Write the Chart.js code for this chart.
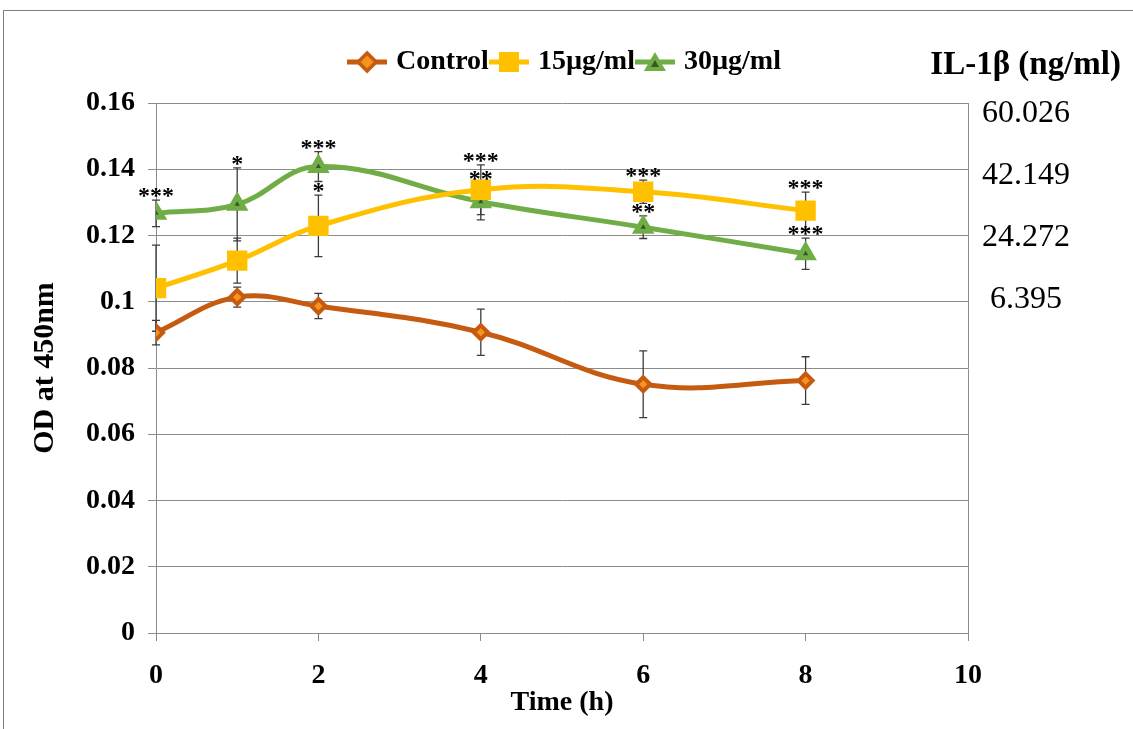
<!DOCTYPE html>
<html><head><meta charset="utf-8">
<script src="https://cdn.jsdelivr.net/npm/chart.js@4"></script>
<style>
html,body{margin:0;padding:0;background:#fff;}
#wrap{position:relative;width:1133px;height:729px;overflow:hidden;background:#fff;}
#frame{position:absolute;left:3px;top:10px;width:1200px;height:800px;border:1px solid #7f7f7f;}
canvas{position:absolute;left:0;top:0;}
</style></head><body>
<div id="wrap"><div id="frame"></div><canvas id="c" width="1133" height="729"></canvas></div>
<script>
// ---- data ----
const timeHours   = [0, 1, 2, 4, 6, 8];
const seriesNames = ['Control', '15\u00b5g/ml', '30\u00b5g/ml'];
const controlOD   = [0.0907, 0.1014, 0.0987, 0.0908, 0.0751, 0.0762];
const controlErr  = [0.0037, 0.0030, 0.0038, 0.0070, 0.0101, 0.0072];
const ug15OD      = [0.1041, 0.1124, 0.1229, 0.1338, 0.1332, 0.1275];
const ug15Err     = [0.0130, 0.0068, 0.0093, 0.0075, 0.0035, 0.0056];
const ug30OD      = [0.1267, 0.1294, 0.1408, 0.1302, 0.1225, 0.1145];
const ug30Err     = [0.0040, 0.0110, 0.0045, 0.0055, 0.0034, 0.0047];
const controlStars = ['', '', '', '', '', ''];
const ug15Stars    = ['', '', '*', '***', '***', '***'];
const ug30Stars    = ['***', '*', '***', '**', '**', '***'];
const il1bTicks    = [6.395, 24.272, 42.149, 60.026];
const rightAxisTitle = 'IL-1\u03b2 (ng/ml)';
const xTitle = 'Time (h)';
const yTitle = 'OD at 450nm';

const SERIF = "'Liberation Serif', 'Times New Roman', serif";
const GRID = '#8c8c8c';
const C_CTRL = '#C55A11', C_CTRL_IN = '#F7941D';
const C_15 = '#FFC000';
const C_30 = '#70AD47', C_30_IN = '#375623';

function pts(vals){ return timeHours.map((t,i)=>({x:t, y:vals[i]})); }

// legend icons (line + marker), Excel style
function icon(lineColor, marker){
  const c = document.createElement('canvas'); c.width = 40; c.height = 24;
  const g = c.getContext('2d');
  g.strokeStyle = lineColor; g.lineWidth = 5;
  g.beginPath(); g.moveTo(0,12); g.lineTo(40,12); g.stroke();
  marker(g); return c;
}
const legendIcons = [
  icon(C_CTRL, g=>{ g.beginPath(); g.moveTo(20,3); g.lineTo(29,12); g.lineTo(20,21); g.lineTo(11,12); g.closePath();
    g.fillStyle=C_CTRL_IN; g.fill(); g.lineWidth=3.5; g.strokeStyle=C_CTRL; g.stroke(); }),
  icon(C_15, g=>{ g.fillStyle=C_15; g.fillRect(10,2,20,20); }),
  icon(C_30, g=>{ g.beginPath(); g.moveTo(20,2); g.lineTo(31,21); g.lineTo(9,21); g.closePath(); g.fillStyle=C_30; g.fill();
    g.beginPath(); g.moveTo(20,10); g.lineTo(24,17); g.lineTo(16,17); g.closePath(); g.fillStyle=C_30_IN; g.fill(); })
];

const errorBars = {
  id:'errorBars',
  beforeDatasetsDraw(chart){
    const {ctx} = chart, x = chart.scales.x, y = chart.scales.y;
    ctx.save(); ctx.strokeStyle = '#3c3c3c'; ctx.lineWidth = 1.3;
    chart.data.datasets.forEach(ds=>{
      ds.data.forEach((p,j)=>{
        const e = ds.errors[j];
        const px = x.getPixelForValue(p.x);
        const t = y.getPixelForValue(p.y + e), b = y.getPixelForValue(p.y - e);
        ctx.beginPath();
        ctx.moveTo(px, t); ctx.lineTo(px, b);
        ctx.moveTo(px-4, t); ctx.lineTo(px+4, t);
        ctx.moveTo(px-4, b); ctx.lineTo(px+4, b);
        ctx.stroke();
      });
    });
    ctx.restore();
  }
};

const starsPlugin = {
  id:'stars',
  afterDatasetsDraw(chart){
    const {ctx} = chart, x = chart.scales.x, y = chart.scales.y;
    ctx.save(); ctx.fillStyle = '#000'; ctx.font = 'bold 24px ' + SERIF;
    ctx.textAlign = 'center'; ctx.textBaseline = 'alphabetic';
    chart.data.datasets.forEach(ds=>{
      ds.data.forEach((p,j)=>{
        const s = ds.stars[j]; if(!s) return;
        ctx.fillText(s, x.getPixelForValue(p.x), y.getPixelForValue(p.y + ds.errors[j]) + 3);
      });
    });
    ctx.restore();
  }
};

const rightTitle = {
  id:'rightTitle',
  afterDraw(chart){
    const {ctx} = chart; const lg = chart.legend;
    const box = lg.legendHitBoxes && lg.legendHitBoxes[0];
    const cy = box ? box.top + box.height/2 : 60;
    ctx.save(); ctx.fillStyle = '#000'; ctx.font = 'bold 33px ' + SERIF;
    ctx.textAlign = 'right'; ctx.textBaseline = 'middle';
    ctx.fillText(rightAxisTitle, chart.width - 12, cy + 3);
    ctx.restore();
  }
};

const common = { borderWidth:5, tension:0.4, fill:false };
new Chart(document.getElementById('c'), {
  type:'line',
  data:{ datasets:[
    Object.assign({label:seriesNames[0], data:pts(controlOD), errors:controlErr, stars:controlStars,
      borderColor:C_CTRL, pointStyle:'rectRot', pointRadius:7, pointBorderWidth:4,
      pointBorderColor:C_CTRL, pointBackgroundColor:C_CTRL_IN}, common),
    Object.assign({label:seriesNames[1], data:pts(ug15OD), errors:ug15Err, stars:ug15Stars,
      borderColor:C_15, pointStyle:'rect', pointRadius:13, pointBorderWidth:2,
      pointBorderColor:C_15, pointBackgroundColor:C_15}, common),
    Object.assign({label:seriesNames[2], data:pts(ug30OD), errors:ug30Err, stars:ug30Stars,
      borderColor:C_30, pointStyle:'triangle', pointRadius:8, pointBorderWidth:5,
      pointBorderColor:C_30, pointBackgroundColor:C_30_IN}, common)
  ]},
  options:{
    responsive:false, animation:false, devicePixelRatio:1,
    layout:{ padding:{ top:43, left:0, right:0, bottom:0 } },
    plugins:{
      tooltip:{enabled:false},
      legend:{ position:'top', align:'center',
        labels:{ usePointStyle:true, pointStyleWidth:30, padding:5, color:'#000',
          font:{family:SERIF, size:28, weight:'bold'},
          generateLabels:(chart)=>chart.data.datasets.map((ds,i)=>({
            text:ds.label, pointStyle:legendIcons[i], fillStyle:'rgba(0,0,0,0)', strokeStyle:'rgba(0,0,0,0)',
            lineWidth:0, hidden:false, datasetIndex:i, fontColor:'#000'})) } }
    },
    scales:{
      x:{ type:'linear', min:0, max:10,
        ticks:{ stepSize:2, color:'#000', padding:18, font:{family:SERIF, size:28, weight:'bold'} },
        grid:{ drawOnChartArea:false, drawTicks:true, tickLength:8, color:GRID },
        border:{ color:GRID },
        title:{ display:true, text:xTitle, color:'#000', font:{family:SERIF, size:28, weight:'bold'}, padding:{top:0, bottom:9} },
        afterFit(s){ s.height = 96; } },
      xTopSpace:{ type:'linear', position:'top', min:0, max:1, display:true,
        ticks:{ display:false }, grid:{ display:false }, border:{ display:false },
        afterFit(s){ s.height = 17; } },
      y:{ min:0, max:0.16,
        ticks:{ stepSize:0.02, color:'#000', padding:13, font:{family:SERIF, size:28, weight:'bold'},
          callback:v=>String(+v.toFixed(2)) },
        grid:{ color:GRID, tickLength:8 },
        border:{ color:GRID },
        title:{ display:true, text:yTitle, color:'#000', font:{family:SERIF, size:30, weight:'bold'}, padding:{top:27, bottom:0} },
        afterFit(s){ s.width = 156; } },
      y2:{ position:'right', min:-89.3, max:63.0,
        afterBuildTicks(s){ s.ticks = il1bTicks.map(v=>({value:v})); },
        ticks:{ color:'#000', crossAlign:'center', padding:14, font:{family:SERIF, size:32},
          callback:v=>v.toFixed(3) },
        grid:{ drawOnChartArea:false, drawTicks:false, color:GRID },
        border:{ display:true, color:GRID },
        afterFit(s){ s.width = 165; } }
    }
  },
  plugins:[errorBars, starsPlugin, rightTitle]
});
</script>
</body></html>
